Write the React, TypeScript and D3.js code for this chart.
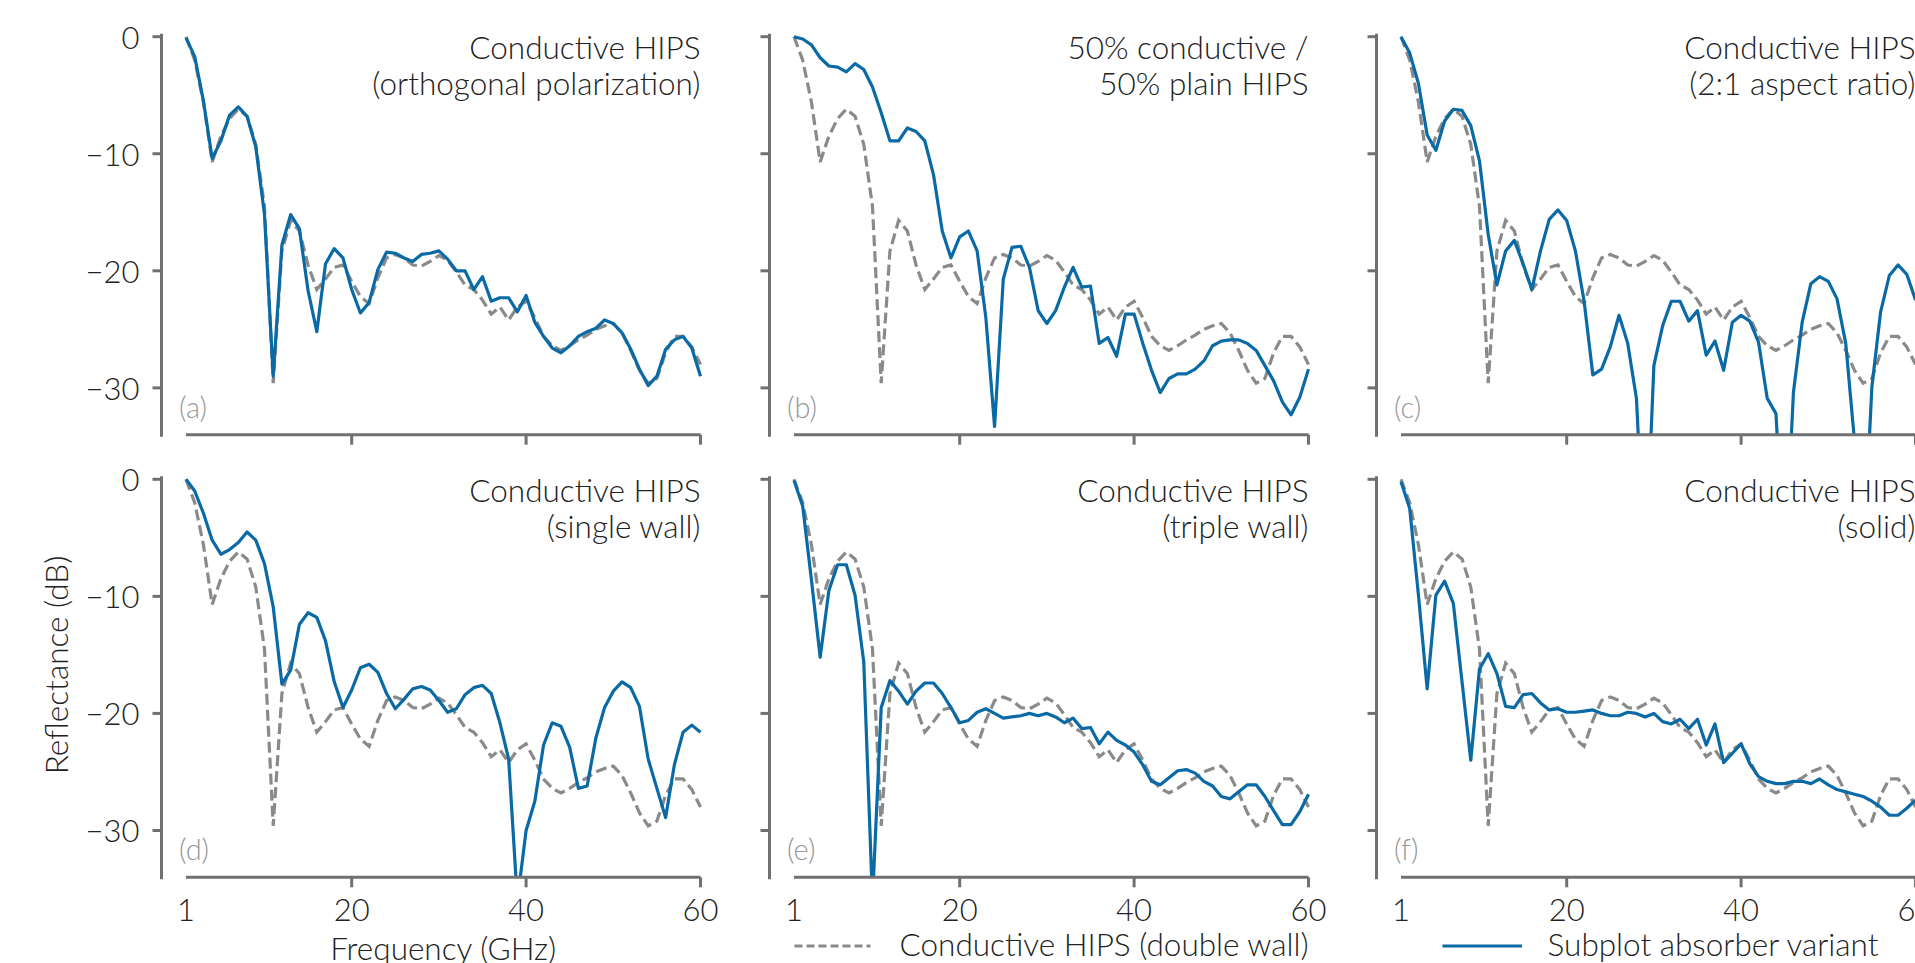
import React from 'react';
import * as d3 from 'd3';

// frequency grid (GHz), one sample per GHz
const FREQ = [
  1, 2, 3, 4, 5, 6, 7, 8, 9, 10, 11, 12, 13, 14, 15, 16, 17, 18, 19, 20,
  21, 22, 23, 24, 25, 26, 27, 28, 29, 30, 31, 32, 33, 34, 35, 36, 37, 38, 39, 40,
  41, 42, 43, 44, 45, 46, 47, 48, 49, 50, 51, 52, 53, 54, 55, 56, 57, 58, 59, 60,
];

// reference: conductive HIPS, double wall (dashed, same in every subplot)
const DOUBLE_WALL = [
  0, -2.0, -5.6, -10.7, -8.5, -7.0, -6.2, -6.8, -9.2, -14.5,
  -29.6, -18.3, -15.7, -16.6, -19.5, -21.6, -20.7, -19.7, -19.5, -20.9,
  -22.2, -22.8, -20.6, -18.9, -18.6, -18.9, -19.5, -19.6, -19.2, -18.7,
  -19.1, -20.1, -21.2, -21.6, -22.5, -23.7, -23.1, -24.2, -23.1, -22.6,
  -24.0, -25.6, -26.4, -26.8, -26.4, -25.9, -25.5, -25.0, -24.7, -24.5,
  -25.3, -26.8, -28.5, -29.6, -29.2, -27.0, -25.6, -25.6, -26.5, -28.0,
];

// subplot variants
const ORTHOGONAL = [
  -0.1, -1.7, -5.5, -10.4, -8.9, -6.7, -6.0, -6.8, -9.4, -15.2,
  -29.0, -17.8, -15.2, -16.4, -21.7, -25.2, -19.4, -18.1, -18.9, -21.6,
  -23.6, -22.7, -19.9, -18.4, -18.5, -18.9, -19.2, -18.6, -18.5, -18.3,
  -19.0, -20.0, -20.0, -21.6, -20.5, -22.6, -22.3, -22.3, -23.5, -22.1,
  -24.4, -25.6, -26.6, -27.0, -26.4, -25.6, -25.2, -24.9, -24.2, -24.5,
  -25.3, -26.7, -28.4, -29.8, -29.0, -26.7, -25.9, -25.6, -26.6, -29.0,
];
const HALF_PLAIN = [
  0, -0.2, -0.7, -1.8, -2.5, -2.6, -3.0, -2.3, -2.8, -4.3,
  -6.5, -8.9, -8.9, -7.8, -8.1, -8.9, -11.8, -16.6, -18.9, -17.1,
  -16.6, -18.3, -24.0, -33.3, -20.7, -18.0, -17.9, -19.7, -23.4, -24.5,
  -23.4, -21.4, -19.7, -21.4, -21.3, -26.2, -25.7, -27.3, -23.7, -23.7,
  -26.2, -28.5, -30.4, -29.2, -28.8, -28.8, -28.4, -27.7, -26.4, -26.0,
  -25.9, -25.9, -26.2, -26.8, -28.1, -29.4, -31.2, -32.3, -30.8, -28.4,
];
const ASPECT_2_1 = [
  0, -1.4, -4.0, -8.4, -9.7, -7.2, -6.2, -6.3, -7.6, -10.6,
  -16.9, -21.2, -18.3, -17.4, -19.4, -21.6, -18.3, -15.6, -14.8, -15.7,
  -18.3, -22.6, -28.9, -28.4, -26.5, -23.8, -26.2, -30.9, -46.0, -28.1,
  -24.7, -22.6, -22.6, -24.3, -23.4, -27.2, -26.0, -28.5, -24.4, -23.8,
  -24.3, -26.1, -30.9, -32.2, -46.0, -30.4, -24.4, -21.1, -20.5, -20.9,
  -22.4, -26.2, -34.5, -45.0, -29.9, -23.5, -20.4, -19.5, -20.3, -22.5,
];
const SINGLE_WALL = [
  0, -1.0, -2.9, -5.2, -6.4, -6.0, -5.4, -4.5, -5.2, -7.2,
  -10.9, -17.5, -16.3, -12.4, -11.4, -11.8, -13.8, -17.3, -19.5, -18.0,
  -16.1, -15.8, -16.5, -18.3, -19.6, -18.8, -17.9, -17.7, -18.0, -18.9,
  -19.9, -19.6, -18.4, -17.8, -17.6, -18.3, -20.8, -23.9, -36.0, -30.0,
  -27.5, -22.7, -20.8, -21.1, -22.9, -26.4, -26.2, -22.1, -19.5, -18.1,
  -17.3, -17.8, -19.4, -23.9, -26.4, -28.9, -24.4, -21.6, -21.0, -21.6,
];
const TRIPLE_WALL = [
  -0.1, -2.3, -8.6, -15.2, -9.5, -7.3, -7.3, -9.9, -15.6, -36.0,
  -19.5, -17.2, -18.1, -19.2, -18.1, -17.4, -17.4, -18.3, -19.5, -20.8,
  -20.6, -19.9, -19.6, -20.0, -20.4, -20.3, -20.2, -20.0, -20.2, -20.0,
  -20.3, -20.8, -20.4, -21.3, -21.2, -22.6, -21.6, -22.3, -22.7, -23.3,
  -24.4, -25.8, -26.1, -25.5, -24.9, -24.8, -25.1, -25.8, -26.2, -27.1,
  -27.3, -26.7, -26.1, -26.1, -27.1, -28.3, -29.5, -29.5, -28.4, -26.9,
];
const SOLID = [
  -0.2, -2.5, -9.9, -17.9, -9.9, -8.7, -10.6, -17.3, -24.0, -16.2,
  -14.9, -16.6, -19.4, -19.5, -18.4, -18.3, -19.1, -19.7, -19.6, -19.9,
  -19.9, -19.8, -19.7, -20.0, -20.2, -20.2, -19.9, -20.0, -20.3, -20.0,
  -20.7, -20.9, -20.5, -21.3, -20.5, -22.7, -20.9, -24.2, -23.4, -22.6,
  -24.3, -25.4, -25.8, -26.0, -26.0, -25.8, -25.8, -26.0, -25.6, -26.1,
  -26.5, -26.7, -26.9, -27.1, -27.5, -28.0, -28.7, -28.7, -28.1, -27.4,
];

const VARIANTS = [ORTHOGONAL, HALF_PLAIN, ASPECT_2_1, SINGLE_WALL, TRIPLE_WALL, SOLID];
const TITLES = [
  ['Conductive HIPS', '(orthogonal polarization)'],
  ['50% conductive /', '50% plain HIPS'],
  ['Conductive HIPS', '(2:1 aspect ratio)'],
  ['Conductive HIPS', '(single wall)'],
  ['Conductive HIPS', '(triple wall)'],
  ['Conductive HIPS', '(solid)'],
];
const LETTERS = ['(a)', '(b)', '(c)', '(d)', '(e)', '(f)'];
const Y_TICKS = [0, -10, -20, -30];
const X_TICKS = [1, 20, 40, 60];
const LEGEND = ['Conductive HIPS (double wall)', 'Subplot absorber variant'];

const W = 1915;
const H = 963;
const COL_X = [186, 794, 1401];
const ROW_Y = [36.7, 479.3];
const PW = 514.5;
const PH = 398;
const BLUE = '#0a6aa6';
const GREY = '#8a8a8a';
const AXIS = '#707070';
const FONT = 'Lato, "Open Sans", sans-serif';
const FS = 31.5; // titles, labels, legend
const TICK_FS = 31;

const x = d3.scaleLinear().domain([1, 60]).range([0, PW]);
const y = d3.scaleLinear().domain([-34, 0]).range([PH, 0]);
const line = d3.line<number>().x((_, k) => x(FREQ[k])).y(d => y(d));

function Panel({ idx }: { idx: number }) {
  const col = idx % 3;
  const row = Math.floor(idx / 3);
  const ox = COL_X[col];
  const oy = ROW_Y[row];
  const spineX = -24.5;
  return (
    <g transform={`translate(${ox},${oy})`}>
      <clipPath id={`clip-${idx}`}>
        <rect x={-6} y={-12} width={PW + 12} height={PH + 12} />
      </clipPath>
      <g clipPath={`url(#clip-${idx})`}>
        <path d={line(DOUBLE_WALL) || ''} fill="none" stroke={GREY} strokeWidth={3.2} strokeDasharray="11,5" />
        <path d={line(VARIANTS[idx]) || ''} fill="none" stroke={BLUE} strokeWidth={3.2} strokeLinejoin="round" />
      </g>

      {/* y axis */}
      <line x1={spineX} x2={spineX} y1={y(0) - 3} y2={PH + 2} stroke={AXIS} strokeWidth={3} />
      {Y_TICKS.map(t => (
        <g key={t}>
          <line x1={spineX - 9} x2={spineX} y1={y(t)} y2={y(t)} stroke={AXIS} strokeWidth={3} />
          {col === 0 && (
            <text x={spineX - 22} y={y(t) + 12} textAnchor="end" fontSize={TICK_FS} fontWeight={300} fill="#222">
              {t === 0 ? '0' : `\u2212${Math.abs(t)}`}
            </text>
          )}
        </g>
      ))}

      {/* x axis */}
      <line x1={x(1)} x2={x(60)} y1={PH} y2={PH} stroke={AXIS} strokeWidth={3} />
      {X_TICKS.map(t => (
        <g key={t}>
          {t > 1 && <line x1={x(t)} x2={x(t)} y1={PH} y2={PH + 10} stroke={AXIS} strokeWidth={3} />}
          {row === 1 && (
            <text x={x(t)} y={PH + 43.5} textAnchor="middle" fontSize={TICK_FS} fontWeight={300} fill="#222">
              {t}
            </text>
          )}
        </g>
      ))}

      {/* title + letter */}
      {TITLES[idx].map((s, k) => (
        <text key={k} x={PW} y={22.5 + k * 36} textAnchor="end" fontSize={FS} fontWeight={300} fill="#222">
          {s}
        </text>
      ))}
      <text x={-7} y={381} fontSize={29} fontWeight={300} fill="#999">
        {LETTERS[idx]}
      </text>
    </g>
  );
}

export default function App() {
  const legendY = 946;
  return (
    <svg
      width={W}
      height={H}
      viewBox={`0 0 ${W} ${H}`}
      style={{ position: 'fixed', left: 0, top: 0, background: '#fff', fontFamily: FONT }}
    >
      <rect width={W} height={H} fill="#fff" />
      {VARIANTS.map((_, i) => (
        <Panel key={i} idx={i} />
      ))}

      <text
        transform={`translate(68,665) rotate(-90)`}
        textAnchor="middle"
        fontSize={FS}
        fontWeight={300}
        fill="#222"
      >
        Reflectance (dB)
      </text>
      <text x={COL_X[0] + PW / 2} y={960} textAnchor="middle" fontSize={FS} fontWeight={300} fill="#222">
        Frequency (GHz)
      </text>

      {/* legend */}
      <line x1={794.5} x2={870.5} y1={legendY} y2={legendY} stroke={GREY} strokeWidth={3} strokeDasharray="8,4" />
      <text x={899.5} y={legendY + 10} fontSize={FS} fontWeight={300} fill="#222">
        {LEGEND[0]}
      </text>
      <line x1={1442.5} x2={1522} y1={legendY} y2={legendY} stroke={BLUE} strokeWidth={3} />
      <text x={1547.6} y={legendY + 10} fontSize={FS} fontWeight={300} fill="#222">
        {LEGEND[1]}
      </text>
    </svg>
  );
}
